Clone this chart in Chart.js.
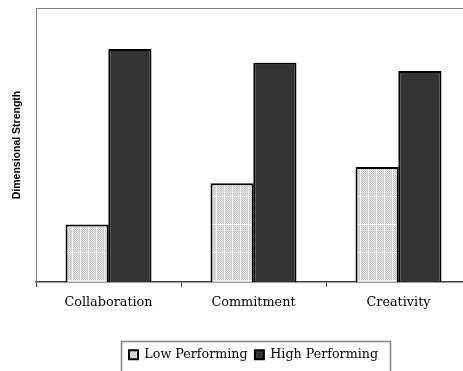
<!DOCTYPE html>
<html>
<head>
<meta charset="utf-8">
<script src="https://cdn.jsdelivr.net/npm/chart.js@4.4.0/dist/chart.umd.min.js"></script>
<style>
  html, body { margin: 0; padding: 0; background: #fff; overflow: hidden; }
  #wrap { width: 480px; height: 371px; }
</style>
</head>
<body>
<div id="wrap"><canvas id="chart" width="480" height="371"></canvas></div>
<script>
// 数据
const categories = ['Collaboration', 'Commitment', 'Creativity'];
const lowPerforming = [21, 36, 42];
const highPerforming = [85, 80, 77];
const seriesNames = ['Low Performing', 'High Performing'];

// 浅灰点状填充（带淡白色网格）
function makePattern() {
    const p = document.createElement('canvas');
    p.width = 8;
    p.height = 28;
    const c = p.getContext('2d');
    c.fillStyle = '#e8e8e8';
    c.fillRect(0, 0, 8, 28);
    c.fillStyle = '#c2c2c2';
    for (let y = 0; y < 28; y++) {
        for (let x = 0; x < 8; x++) {
            if ((x + y) % 2 === 0) c.fillRect(x, y, 1, 1);
        }
    }
    c.fillStyle = '#f6f6f6';
    c.fillRect(0, 0, 8, 1);
    for (let y = 0; y < 28; y += 2) c.fillRect(0, y, 1, 1);
    return c.createPattern(p, 'repeat');
}

// 上边框 + 图例边框
const framePlugin = {
    id: 'frame',
    afterDraw(chart) {
        const ctx = chart.ctx;
        const a = chart.chartArea;
        ctx.save();
        ctx.strokeStyle = '#808080';
        ctx.lineWidth = 1;
        ctx.beginPath();
        ctx.moveTo(a.left, a.top + 0.5);
        ctx.lineTo(chart.width, a.top + 0.5);
        ctx.stroke();

        const hb = chart.legend.legendHitBoxes;
        if (hb && hb.length) {
            const l = Math.min(...hb.map(h => h.left)) - 8;
            const r = Math.max(...hb.map(h => h.left + h.width)) + 12;
            const t = chart.legend.top;
            ctx.strokeStyle = '#808080';
            ctx.lineWidth = 1.5;
            ctx.strokeRect(Math.round(l) + 0.5, Math.round(t) + 0.5, Math.round(r - l), 60);
        }
        ctx.restore();
    }
};

const ctx = document.getElementById('chart').getContext('2d');
new Chart(ctx, {
    type: 'bar',
    data: {
        labels: categories,
        datasets: [{
            label: seriesNames[0],
            data: lowPerforming,
            backgroundColor: makePattern(),
            borderColor: '#000',
            borderWidth: 2,
            borderSkipped: 'bottom'
        }, {
            label: seriesNames[1],
            data: highPerforming,
            backgroundColor: '#333333',
            borderColor: '#000',
            borderWidth: 2,
            borderSkipped: 'bottom'
        }]
    },
    options: {
        responsive: false,
        animation: false,
        categoryPercentage: 0.59,
        barPercentage: 1.01,
        layout: { padding: { top: 8, right: 9, left: 0, bottom: 0 } },
        scales: {
            x: {
                grid: {
                    offset: true,
                    drawOnChartArea: false,
                    drawTicks: true,
                    tickLength: 5,
                    color: '#404040',
                    lineWidth: 1
                },
                border: { color: '#404040', width: 1.5 },
                ticks: {
                    color: '#000',
                    padding: 8,
                    font: { family: 'DejaVu Serif', size: 12.8 }
                },
                afterFit(scale) { scale.height = 59; }
            },
            y: {
                min: 0,
                max: 100,
                grid: { display: false },
                border: { color: '#808080', width: 1 },
                ticks: { display: false },
                title: {
                    display: true,
                    text: 'Dimensional Strength',
                    color: '#000',
                    padding: { top: 11, bottom: 0 },
                    font: { family: 'Liberation Sans', size: 10.5, weight: 'bold' }
                },
                afterFit(scale) { scale.width = 36; }
            }
        },
        plugins: {
            legend: {
                position: 'bottom',
                fullSize: false,
                labels: {
                    boxWidth: 9,
                    boxHeight: 9,
                    padding: 7.3,
                    color: '#000',
                    font: { family: 'DejaVu Serif', size: 12.7 }
                }
            },
            tooltip: { enabled: false }
        }
    },
    plugins: [framePlugin]
});
</script>
</body>
</html>
